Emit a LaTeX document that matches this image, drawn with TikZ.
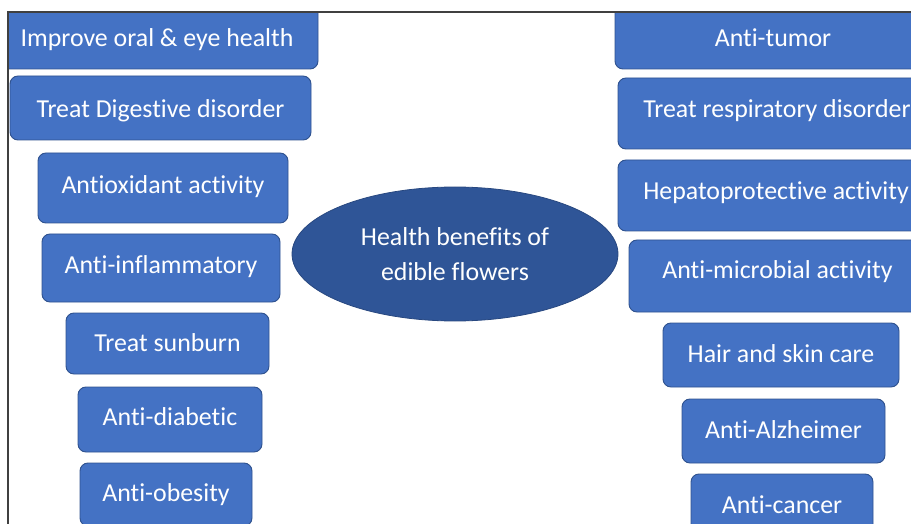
\documentclass[tikz,border=0pt]{standalone}
\usepackage{fontspec}
\setmainfont{Carlito}[Ligatures=NoCommon]
\usetikzlibrary{shapes.geometric}
\definecolor{boxfill}{HTML}{4472C4}
\definecolor{boxline}{HTML}{2F528F}
\definecolor{ellfill}{HTML}{2F5597}
\definecolor{framec}{HTML}{404040}
\tikzset{
  benefit/.style={rectangle, draw=boxline, fill=boxfill, line width=0.7pt,
    rounded corners=6pt, inner sep=0pt, text=white,
    font=\fontsize{19.4}{23}\selectfont, text height=1.9ex, text depth=0.55ex},
  sz/.style 2 args={minimum width=#1*0.75pt, minimum height=#2*0.75pt},
  hub/.style={ellipse, draw=ellfill!85!black, fill=ellfill, line width=0.6pt,
    inner sep=0pt, text=white, align=center,
    font=\fontsize{19.4}{26.6}\selectfont},
  frameline/.style={draw=framec, line width=0.8pt}
}
\newcommand\lift[2]{\raisebox{#1pt}{#2}}
\begin{document}
\begin{tikzpicture}[x=0.75pt, y=-0.75pt]
\useasboundingbox (0,0) rectangle (911,524);
\begin{scope}
\clip (8,12) rectangle (911,524);
% left column
\node[benefit, sz={322}{65}] (l1) at (157,36.5) {\lift{-4.5}{Improve oral \& eye health}};
\node[benefit, sz={301}{64}] (l2) at (160.5,108) {\lift{-3.7}{Treat Digestive disorder}};
\node[benefit, sz={250}{70}] (l3) at (163,188) {\lift{-0.7}{Antioxidant activity}};
\node[benefit, sz={238}{68}] (l4) at (161,268) {\lift{-0.7}{Anti-inflammatory}};
\node[benefit, sz={203}{61}] (l5) at (167.5,343.5) {\lift{-2.6}{Treat sunburn}};
\node[benefit, sz={184}{65}] (l6) at (170,419.5) {\lift{-1.5}{Anti-diabetic}};
\node[benefit, sz={172}{63}] (l7) at (166,494.5) {\lift{-2.2}{Anti-obesity}};
% right column
\node[benefit, sz={316}{65}] (r1) at (773,36.5) {\lift{-4.5}{Anti-tumor}};
\node[benefit, sz={318}{71}] (r2) at (777,113.5) {\lift{0.4}{Treat respiratory disorder}};
\node[benefit, sz={316}{71}] (r3) at (776,195.5) {\lift{0.1}{Hepatoprotective activity}};
\node[benefit, sz={297}{72}] (r4) at (777.5,276) {\lift{1.2}{Anti-microbial activity}};
\node[benefit, sz={236}{64}] (r5) at (781,355) {\lift{-2.6}{Hair and skin care}};
\node[benefit, sz={203}{64}] (r6) at (783.5,431) {\lift{-2.2}{Anti-Alzheimer}};
\node[benefit, sz={182}{58}] (r7) at (782,503) {\lift{-4.8}{Anti-cancer}};
% centre
\node[hub, minimum width=326*0.75pt, minimum height=134*0.75pt] (hub) at (455,254)
  {Health benefits of\\edible flowers};
\end{scope}
\coordinate (fa) at (8,524);
\coordinate (fb) at (8,12);
\coordinate (fc) at (911,12);
\draw[frameline] (fa) -- (fb) -- (fc);
\end{tikzpicture}
\end{document}
